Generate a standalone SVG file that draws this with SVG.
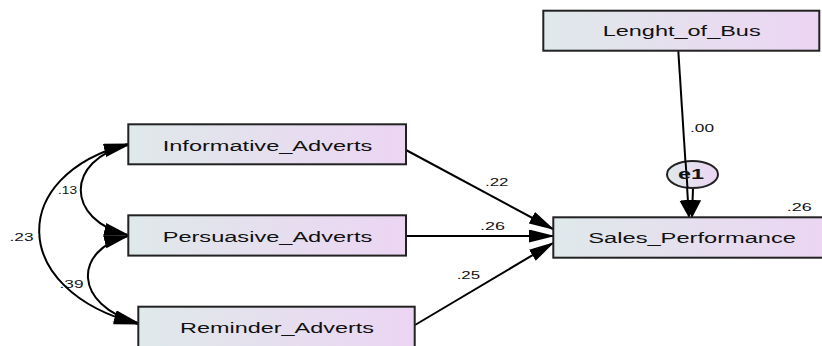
<svg xmlns="http://www.w3.org/2000/svg" width="822" height="346" viewBox="0 0 822 346">
<style>
.box{stroke:#222;stroke-width:2;fill:url(#g)}
.lbl{font-family:"Liberation Sans",Arial,sans-serif;font-size:15.5px;fill:#111}
.num{font-family:"Liberation Sans",Arial,sans-serif;font-size:11.5px;fill:#111}
.ln{fill:none;stroke:#000;stroke-width:2}
</style>
<defs>
<linearGradient id="g" x1="0" y1="0" x2="1" y2="0">
<stop offset="0" stop-color="#dfe9ea"/>
<stop offset="1" stop-color="#ecd5f3"/>
</linearGradient>
<marker id="ah" markerUnits="userSpaceOnUse" markerWidth="26" markerHeight="14" refX="24" refY="6.5" orient="auto-start-reverse" viewBox="0 0 26 14">
<path d="M0,0 L26,6.5 L0,13 Z" fill="#000"/>
</marker>
<marker id="av" markerUnits="userSpaceOnUse" markerWidth="18" markerHeight="18" refX="17" refY="8.5" orient="auto" viewBox="0 0 18 18">
<path d="M0,0 L18,8.5 L0,17 Z" fill="#000"/>
</marker>
</defs>
<g id="connectors">
<path class="ln" d="M128,144 C8,175 8,290 138,324" marker-start="url(#ah)" marker-end="url(#ah)"/>
<path class="ln" d="M128,145 C65,160 65,220 128,235" marker-start="url(#ah)" marker-end="url(#ah)"/>
<path class="ln" d="M128,236 C73,250 73,305 138,323" marker-start="url(#ah)" marker-end="url(#ah)"/>
<line class="ln" x1="406" y1="150" x2="553" y2="229" marker-end="url(#ah)"/>
<line class="ln" x1="406" y1="236" x2="553" y2="236" marker-end="url(#ah)"/>
<line class="ln" x1="415" y1="325" x2="553" y2="243" marker-end="url(#ah)"/>
<line class="ln" x1="678.3" y1="51" x2="689" y2="217" marker-end="url(#av)"/>
<line class="ln" x1="693" y1="188" x2="692" y2="217" marker-end="url(#av)"/>
<text class="num" x="58" y="194" textLength="19" lengthAdjust="spacingAndGlyphs">.13</text>
<text class="num" x="9.5" y="240.7" textLength="24" lengthAdjust="spacingAndGlyphs">.23</text>
<text class="num" x="59.5" y="288.3" textLength="24" lengthAdjust="spacingAndGlyphs">.39</text>
<text class="num" x="485" y="186" textLength="23.5" lengthAdjust="spacingAndGlyphs">.22</text>
<text class="num" x="480" y="230" textLength="25" lengthAdjust="spacingAndGlyphs">.26</text>
<text class="num" x="456.7" y="279.3" textLength="23.5" lengthAdjust="spacingAndGlyphs">.25</text>
<text class="num" x="690" y="131.7" textLength="24" lengthAdjust="spacingAndGlyphs">.00</text>
</g>
<g id="Informative_Adverts">
<rect class="box" x="128.3" y="124.3" width="277.7" height="40"/>
<text class="lbl" x="162.7" y="151.2" textLength="209.6" lengthAdjust="spacingAndGlyphs">Informative_Adverts</text>
</g>
<g id="Persuasive_Adverts">
<rect class="box" x="128.3" y="215.3" width="277.7" height="40.3"/>
<text class="lbl" x="162.7" y="241.7" textLength="209.6" lengthAdjust="spacingAndGlyphs">Persuasive_Adverts</text>
</g>
<g id="Reminder_Adverts">
<rect class="box" x="138.3" y="306.7" width="276.4" height="42"/>
<text class="lbl" x="180" y="332.7" textLength="194" lengthAdjust="spacingAndGlyphs">Reminder_Adverts</text>
</g>
<g id="Lenght_of_Bus">
<rect class="box" x="543.3" y="10.7" width="276" height="40"/>
<text class="lbl" x="602.7" y="36" textLength="158" lengthAdjust="spacingAndGlyphs">Lenght_of_Bus</text>
</g>
<g id="Sales_Performance">
<rect class="box" x="553.3" y="217.3" width="280" height="40.4"/>
<text class="lbl" x="588.3" y="243.3" textLength="207.7" lengthAdjust="spacingAndGlyphs">Sales_Performance</text>
<text class="num" x="786.7" y="210.7" textLength="25" lengthAdjust="spacingAndGlyphs">.26</text>
</g>
<g id="e1">
<ellipse cx="692.5" cy="174.5" rx="25.5" ry="13.5" fill="url(#g)" stroke="#222" stroke-width="2"/>
<line class="ln" x1="685.5" y1="161" x2="687.5" y2="188"/>
<text x="678" y="179.3" textLength="26" lengthAdjust="spacingAndGlyphs" font-family="Liberation Sans,Arial,sans-serif" font-size="15" font-weight="bold" fill="#111">e1</text>
</g>
</svg>
